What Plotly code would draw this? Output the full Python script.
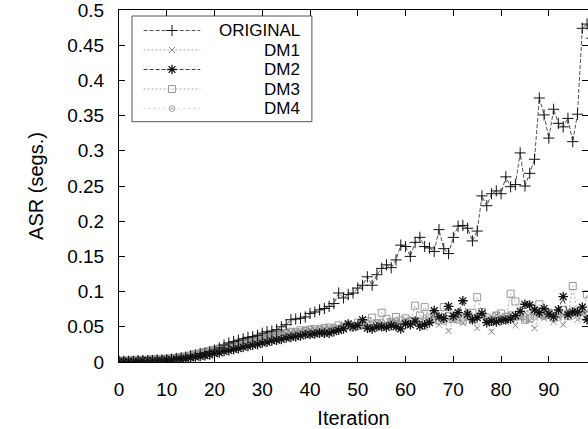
import plotly.graph_objects as go

iterations = list(range(100))

original = [
    0.001, 0.001, 0.001, 0.001, 0.002, 0.002, 0.002, 0.002, 0.003, 0.003,
    0.003, 0.004, 0.005, 0.006, 0.007, 0.009, 0.010, 0.012, 0.013, 0.015,
    0.017, 0.020, 0.024, 0.027, 0.029, 0.031, 0.033, 0.035, 0.036, 0.038,
    0.041, 0.043, 0.044, 0.046, 0.050, 0.053, 0.060, 0.061, 0.062, 0.064,
    0.069, 0.071, 0.074, 0.076, 0.079, 0.083, 0.098, 0.091, 0.096, 0.098,
    0.105, 0.109, 0.121, 0.109, 0.124, 0.133, 0.138, 0.134, 0.145, 0.166,
    0.164, 0.150, 0.170, 0.177, 0.164, 0.162, 0.157, 0.188, 0.161, 0.154,
    0.177, 0.193, 0.194, 0.190, 0.172, 0.186, 0.236, 0.222, 0.239, 0.243,
    0.239, 0.263, 0.249, 0.252, 0.297, 0.250, 0.268, 0.288, 0.375, 0.351,
    0.318, 0.359, 0.339, 0.334, 0.346, 0.313, 0.352, 0.474, 0.480, 0.460,
]

dm1 = [
    0.002, 0.002, 0.002, 0.002, 0.002, 0.003, 0.003, 0.003, 0.003, 0.004,
    0.004, 0.005, 0.006, 0.007, 0.008, 0.010, 0.011, 0.013, 0.014, 0.016,
    0.017, 0.019, 0.020, 0.022, 0.024, 0.025, 0.027, 0.029, 0.030, 0.032,
    0.033, 0.035, 0.036, 0.037, 0.039, 0.040, 0.041, 0.042, 0.044, 0.043,
    0.045, 0.046, 0.044, 0.047, 0.048, 0.046, 0.049, 0.050, 0.048, 0.051,
    0.052, 0.050, 0.054, 0.049, 0.055, 0.053, 0.051, 0.057, 0.054, 0.056,
    0.058, 0.052, 0.060, 0.055, 0.049, 0.061, 0.057, 0.053, 0.062, 0.044,
    0.059, 0.063, 0.055, 0.066, 0.058, 0.048, 0.064, 0.060, 0.043, 0.067,
    0.061, 0.057, 0.068, 0.052, 0.063, 0.070, 0.059, 0.048, 0.066, 0.062,
    0.071, 0.057, 0.064, 0.053, 0.069, 0.075, 0.060, 0.067, 0.072, 0.058,
]

dm2 = [
    0.001, 0.001, 0.001, 0.001, 0.001, 0.002, 0.002, 0.002, 0.002, 0.002,
    0.003, 0.003, 0.004, 0.004, 0.005, 0.006, 0.007, 0.008, 0.009, 0.010,
    0.012, 0.013, 0.015, 0.016, 0.018, 0.019, 0.021, 0.022, 0.024, 0.025,
    0.027, 0.028, 0.030, 0.031, 0.032, 0.034, 0.035, 0.036, 0.037, 0.039,
    0.039, 0.040, 0.041, 0.041, 0.041, 0.043, 0.045, 0.047, 0.054, 0.050,
    0.052, 0.060, 0.048, 0.047, 0.050, 0.050, 0.049, 0.052, 0.050, 0.047,
    0.054, 0.053, 0.058, 0.051, 0.053, 0.056, 0.073, 0.064, 0.062, 0.079,
    0.065, 0.070, 0.087, 0.068, 0.060, 0.063, 0.069, 0.056, 0.058, 0.057,
    0.059, 0.060, 0.061, 0.066, 0.072, 0.082, 0.081, 0.074, 0.070, 0.076,
    0.068, 0.064, 0.074, 0.093, 0.067, 0.071, 0.071, 0.078, 0.060, 0.065,
]

dm3 = [
    0.002, 0.002, 0.002, 0.003, 0.003, 0.003, 0.003, 0.004, 0.004, 0.004,
    0.005, 0.005, 0.006, 0.007, 0.008, 0.009, 0.011, 0.012, 0.014, 0.015,
    0.017, 0.019, 0.020, 0.022, 0.024, 0.026, 0.028, 0.030, 0.031, 0.033,
    0.034, 0.036, 0.037, 0.039, 0.040, 0.041, 0.043, 0.042, 0.045, 0.044,
    0.046, 0.047, 0.045, 0.048, 0.049, 0.047, 0.052, 0.050, 0.053, 0.049,
    0.056, 0.052, 0.058, 0.063, 0.055, 0.070, 0.061, 0.057, 0.064, 0.059,
    0.062, 0.058, 0.080, 0.066, 0.078, 0.063, 0.069, 0.060, 0.078, 0.065,
    0.061, 0.068, 0.059, 0.066, 0.070, 0.092, 0.071, 0.063, 0.058, 0.066,
    0.069, 0.064, 0.097, 0.086, 0.065, 0.060, 0.062, 0.072, 0.082, 0.066,
    0.070, 0.063, 0.068, 0.074, 0.065, 0.108, 0.071, 0.066, 0.096, 0.078,
]

dm4 = [
    0.002, 0.002, 0.003, 0.003, 0.003, 0.003, 0.004, 0.004, 0.004, 0.005,
    0.005, 0.006, 0.007, 0.008, 0.009, 0.011, 0.012, 0.014, 0.015, 0.017,
    0.019, 0.020, 0.022, 0.024, 0.025, 0.027, 0.029, 0.031, 0.032, 0.034,
    0.035, 0.037, 0.038, 0.039, 0.041, 0.042, 0.043, 0.044, 0.043, 0.046,
    0.047, 0.045, 0.048, 0.049, 0.047, 0.050, 0.048, 0.051, 0.052, 0.050,
    0.053, 0.051, 0.055, 0.052, 0.054, 0.057, 0.053, 0.056, 0.058, 0.054,
    0.057, 0.060, 0.056, 0.059, 0.062, 0.058, 0.061, 0.064, 0.057, 0.060,
    0.063, 0.059, 0.062, 0.065, 0.060, 0.064, 0.066, 0.061, 0.063, 0.067,
    0.062, 0.065, 0.068, 0.063, 0.066, 0.061, 0.069, 0.064, 0.067, 0.065,
    0.070, 0.066, 0.063, 0.068, 0.071, 0.065, 0.069, 0.073, 0.067, 0.070,
]

series_names = ["ORIGINAL", "DM1", "DM2", "DM3", "DM4"]
series_values = [original, dm1, dm2, dm3, dm4]

x_ticks = [0, 10, 20, 30, 40, 50, 60, 70, 80, 90]
y_ticks = [0, 0.05, 0.1, 0.15, 0.2, 0.25, 0.3, 0.35, 0.4, 0.45, 0.5]
y_tick_text = ["0", "0.05", "0.1", "0.15", "0.2", "0.25", "0.3", "0.35", "0.4", "0.45", "0.5"]

styles = [
    dict(line=dict(color="#555555", width=1, dash="4px,2px"),
         marker=dict(symbol="cross-thin-open", size=8, color="#111111", line=dict(width=1, color="#111111"))),
    dict(line=dict(color="#aaaaaa", width=1, dash="2px,2px"),
         marker=dict(symbol="x-thin-open", size=6, color="#888888", line=dict(width=1, color="#888888"))),
    dict(line=dict(color="#444444", width=1, dash="4px,2px"),
         marker=dict(symbol="asterisk-open", size=8, color="#111111", line=dict(width=1.3, color="#111111"))),
    dict(line=dict(color="#aaaaaa", width=1, dash="2px,2px"),
         marker=dict(symbol="square-open", size=7, color="#999999", line=dict(width=1, color="#999999"))),
    dict(line=dict(color="#bbbbbb", width=1, dash="1px,4px"),
         marker=dict(symbol="circle-x-open", size=6, color="#aaaaaa", line=dict(width=1, color="#aaaaaa"))),
]

W, H = 588, 429
L, R, T, B = 118.7, 588, 10, 362

fig = go.Figure()
draw_order = [4, 3, 1, 2, 0]
for i in draw_order:
    fig.add_trace(go.Scatter(
        x=iterations, y=series_values[i], mode="lines+markers",
        name=series_names[i], showlegend=False, cliponaxis=True,
        line=styles[i]["line"], marker=styles[i]["marker"]))


def px(xp):
    return (xp - L) / (R - L)


def py(yp):
    return (B - yp) / (B - T)


# manual key box (gnuplot style)
box = dict(x0=px(131.7), x1=px(311.7), y0=py(121.7), y1=py(16))
legend_rows = [30.5, 50, 69.5, 89, 108.5]
shapes = [dict(type="rect", xref="x2", yref="y2", **box,
               line=dict(color="#555555", width=1), layer="below")]
fig.update_layout(shapes=shapes)

for k, name in enumerate(series_names):
    yy = py(legend_rows[k])
    fig.add_trace(go.Scatter(
        x=[px(143.3), px(200)], y=[yy, yy],
        xaxis="x2", yaxis="y2", mode="lines", showlegend=False,
        line=styles[k]["line"]))
    fig.add_trace(go.Scatter(
        x=[px(171.7)], y=[yy],
        xaxis="x2", yaxis="y2", mode="markers", showlegend=False,
        marker=styles[k]["marker"]))
    fig.add_annotation(x=px(302), y=yy, xref="x2", yref="y2", text=name,
                       showarrow=False, xanchor="right", yanchor="middle",
                       font=dict(size=17, color="black",
                                 family="Liberation Sans, Arial, sans-serif"))

font_family = "Liberation Sans, Arial, sans-serif"
fig.update_layout(
    width=W, height=H,
    margin=dict(l=L, r=W - R, t=T, b=H - B, pad=0, autoexpand=False),
    paper_bgcolor="white", plot_bgcolor="white",
    font=dict(family=font_family, size=19, color="black"),
    xaxis=dict(range=[0, 98.2], tickvals=x_ticks, ticks="inside", ticklen=6,
               tickcolor="black", showline=True, linecolor="black", linewidth=1,
               mirror="ticks", showgrid=False, zeroline=False, automargin=False,
               ticklabelstandoff=10, ticklabeloverflow="allow",
               title=dict(text="Iteration", standoff=14, font=dict(size=20))),
    yaxis=dict(range=[0, 0.5], tickvals=y_ticks, ticktext=y_tick_text,
               ticks="inside", ticklen=6, tickcolor="black", showline=True,
               linecolor="black", linewidth=1, mirror="ticks", showgrid=False,
               zeroline=False, ticklabelstandoff=10, automargin=False,
               ticklabeloverflow="allow",
               title=dict(text="ASR (segs.)", standoff=18, font=dict(size=20))),
    xaxis2=dict(range=[0, 1], overlaying="x", visible=False, domain=[0, 1]),
    yaxis2=dict(range=[0, 1], overlaying="y", visible=False, domain=[0, 1]),
)

fig.write_html(
    "out.html",
    config={"displayModeBar": False},
    post_script="document.body.style.margin='0';document.body.style.overflow='hidden';",
)
